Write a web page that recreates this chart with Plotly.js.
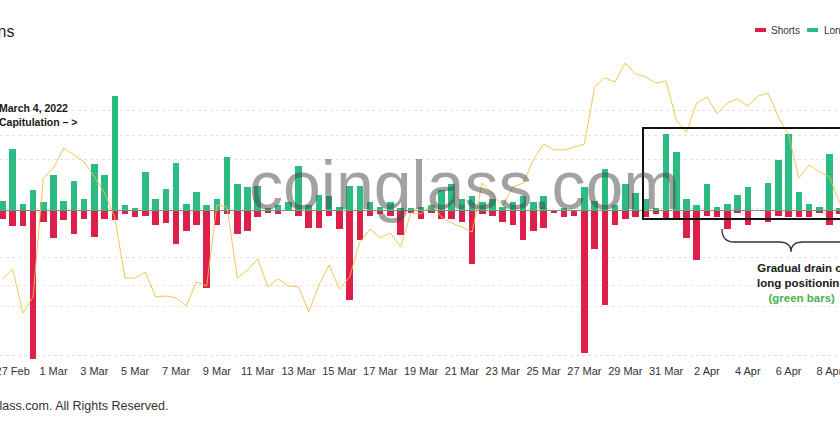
<!DOCTYPE html>
<html>
<head>
<meta charset="utf-8">
<script src="https://cdn.plot.ly/plotly-3.0.1.min.js"></script>
<style>
  html, body { margin: 0; padding: 0; background: #fff; overflow: hidden; }
  #chart { width: 840px; height: 430px; }
</style>
</head>
<body>
<div id="chart"></div>
<script>
// 12-hour buckets
const times = [
  "2022-02-26 12:00","2022-02-27 00:00","2022-02-27 12:00","2022-02-28 00:00","2022-02-28 12:00",
  "2022-03-01 00:00","2022-03-01 12:00","2022-03-02 00:00","2022-03-02 12:00","2022-03-03 00:00","2022-03-03 12:00",
  "2022-03-04 00:00","2022-03-04 12:00","2022-03-05 00:00","2022-03-05 12:00","2022-03-06 00:00","2022-03-06 12:00",
  "2022-03-07 00:00","2022-03-07 12:00","2022-03-08 00:00","2022-03-08 12:00","2022-03-09 00:00","2022-03-09 12:00",
  "2022-03-10 00:00","2022-03-10 12:00","2022-03-11 00:00","2022-03-11 12:00","2022-03-12 00:00","2022-03-12 12:00",
  "2022-03-13 00:00","2022-03-13 12:00","2022-03-14 00:00","2022-03-14 12:00","2022-03-15 00:00","2022-03-15 12:00",
  "2022-03-16 00:00","2022-03-16 12:00","2022-03-17 00:00","2022-03-17 12:00","2022-03-18 00:00","2022-03-18 12:00",
  "2022-03-19 00:00","2022-03-19 12:00","2022-03-20 00:00","2022-03-20 12:00","2022-03-21 00:00","2022-03-21 12:00",
  "2022-03-22 00:00","2022-03-22 12:00","2022-03-23 00:00","2022-03-23 12:00","2022-03-24 00:00","2022-03-24 12:00",
  "2022-03-25 00:00","2022-03-25 12:00","2022-03-26 00:00","2022-03-26 12:00","2022-03-27 00:00","2022-03-27 12:00",
  "2022-03-28 00:00","2022-03-28 12:00","2022-03-29 00:00","2022-03-29 12:00","2022-03-30 00:00","2022-03-30 12:00",
  "2022-03-31 00:00","2022-03-31 12:00","2022-04-01 00:00","2022-04-01 12:00","2022-04-02 00:00","2022-04-02 12:00",
  "2022-04-03 00:00","2022-04-03 12:00","2022-04-04 00:00","2022-04-04 12:00","2022-04-05 00:00","2022-04-05 12:00",
  "2022-04-06 00:00","2022-04-06 12:00","2022-04-07 00:00","2022-04-07 12:00","2022-04-08 00:00","2022-04-08 12:00"
];

// Long liquidations ($M)
const longs = [
  13, 82, 9, 28, 12,
  48, 13, 39, 15, 62, 47,
  153, 7, 4, 51, 16, 29,
  63, 9, 25, 8, 15, 72,
  36, 31, 33, 3, 7, 11,
  60, 8, 21, 20, 5, 33,
  33, 11, 5, 12, 4, 3,
  5, 8, 28, 36, 15, 19,
  11, 16, 5, 11, 20, 11,
  19, 1.3, 3, 0.7, 32, 13,
  55, 8, 36, 24, 16, 3,
  102, 78, 16, 8, 35, 5,
  9, 21, 31, 1.3, 37, 68,
  102, 25, 9, 5, 75, 4
];

// Short liquidations ($M)
const shorts = [
  12, 21, 21, 199, 15,
  37, 13, 32, 11, 35, 12,
  13, 5, 9, 8, 19, 17,
  45, 27, 19, 104, 20, 5,
  32, 28, 9, 4, 5, 1.3,
  7, 23, 23, 8, 25, 120,
  40, 7, 5, 7, 33, 3,
  11, 3, 11, 12, 15, 71,
  5, 7, 16, 20, 40, 28,
  24, 4, 9, 7, 191, 51,
  126, 19, 11, 9, 9, 5,
  11, 11, 37, 66, 8, 9,
  25, 4, 20, 1.3, 15, 8,
  9, 9, 9, 3, 20, 5
];

// BTC price (USD)
const price = [
  39100, 39510, 37710, 38370, 43220,
  43630, 44450, 44160, 43880, 43270, 42610,
  41630, 39140, 39140, 39390, 38370, 38410,
  38330, 38000, 38980, 38820, 42120, 42040,
  39140, 39470, 39920, 38780, 39100, 38820,
  38780, 37760, 38860, 39670, 38690, 39180,
  40610, 41140, 40780, 40980, 40410, 41800,
  41760, 42160, 41630, 41390, 41220, 41020,
  43020, 42530, 42080, 42860, 43020, 43960,
  44610, 44370, 44370, 44490, 44610, 46940,
  47310, 47140, 47920, 47470, 47350, 47100,
  47180, 45590, 45100, 46290, 46530, 45840,
  46290, 46450, 46160, 46570, 46690, 45710,
  44980, 43220, 43760, 43470, 43270, 42200
];

const W = 840, PLOT_TOP = 61, PLOT_BOTTOM = 360;
const px = v => v / W;
const py = v => (PLOT_BOTTOM - v) / (PLOT_BOTTOM - PLOT_TOP);

const RED = '#dd1f4a', GREEN = '#2dbb84';
const FONT = 'Liberation Sans, Arial, Helvetica, sans-serif';
const barW = 12 * 3600 * 1000 * 0.64;

const traces = [
  { type: 'bar', name: 'Longs', x: times, y: longs, width: barW,
    marker: { color: GREEN }, hoverinfo: 'x+y' },
  { type: 'bar', name: 'Shorts', x: times, y: shorts.map(v => -v), width: barW,
    marker: { color: RED }, hoverinfo: 'x+y' },
  { type: 'scatter', mode: 'lines', name: 'Price', x: times, y: price, yaxis: 'y2',
    line: { color: 'rgba(238,194,70,0.9)', width: 1 }, hoverinfo: 'x+y' }
];

const brace = [
  'M', px(722), py(229),
  'Q', px(722), py(242), px(734), py(242),
  'L', px(779), py(242),
  'Q', px(791), py(242), px(791), py(252),
  'Q', px(791), py(242), px(803), py(242),
  'L', px(848), py(242),
  'Q', px(860), py(242), px(860), py(229)
].join(' ');

const layout = {
  width: 840, height: 430,
  margin: { l: 0, r: 0, t: PLOT_TOP, b: 430 - PLOT_BOTTOM, pad: 0, autoexpand: false },
  paper_bgcolor: '#fff', plot_bgcolor: '#fff',
  barmode: 'relative', bargap: 0,
  showlegend: false,
  font: { family: FONT, color: '#333' },
  xaxis: {
    type: 'date',
    range: ['2022-02-26 09:07', '2022-04-08 12:23'],
    tickmode: 'linear', tick0: '2022-02-27', dtick: 2 * 86400000,
    tickformat: '%-d %b',
    ticklabeloverflow: 'allow',
    ticklabelstandoff: 3,
    showgrid: false, zeroline: false, showline: false, ticks: '',
    tickfont: { size: 11, color: '#333', family: FONT }
  },
  yaxis: {
    range: [-200, 200], tickmode: 'linear', tick0: 0, dtick: 100,
    showticklabels: false, ticks: '',
    gridcolor: '#e3e3e3', griddash: 'dot', gridwidth: 1,
    zeroline: true, zerolinecolor: 'rgba(200,50,80,0.75)', zerolinewidth: 1
  },
  yaxis2: {
    overlaying: 'y', side: 'right',
    range: [35796, 48000], tickmode: 'linear', tick0: 36000, dtick: 2000,
    showticklabels: false, ticks: '',
    gridcolor: '#e3e3e3', griddash: 'dot', gridwidth: 1, zeroline: false
  },
  shapes: [
    { type: 'rect', xref: 'paper', yref: 'paper',
      x0: px(643), x1: px(900), y0: py(219), y1: py(128),
      line: { color: '#111', width: 2 }, fillcolor: 'rgba(0,0,0,0)' },
    { type: 'path', xref: 'paper', yref: 'paper', path: brace,
      line: { color: '#333', width: 1.3 } },
    { type: 'rect', xref: 'paper', yref: 'paper',
      x0: px(755), x1: px(766), y0: py(32), y1: py(28),
      line: { width: 0 }, fillcolor: RED },
    { type: 'rect', xref: 'paper', yref: 'paper',
      x0: px(807), x1: px(818), y0: py(32), y1: py(28),
      line: { width: 0 }, fillcolor: GREEN }
  ],
  annotations: [
    { text: 'coinglass.com', xref: 'paper', yref: 'paper', x: px(464), y: py(185),
      xanchor: 'center', yanchor: 'middle', showarrow: false,
      font: { family: FONT, size: 68, color: 'rgba(70,70,70,0.5)' } },
    { text: 'Liquidations', xref: 'paper', yref: 'paper', x: px(16), y: py(31),
      xanchor: 'right', yanchor: 'middle', showarrow: false,
      font: { family: FONT, size: 16, color: '#222' } },
    { text: 'Shorts', xref: 'paper', yref: 'paper', x: px(769), y: py(30),
      xanchor: 'left', yanchor: 'middle', showarrow: false,
      font: { family: FONT, size: 10, color: '#333' } },
    { text: 'Longs', xref: 'paper', yref: 'paper', x: px(822), y: py(30),
      xanchor: 'left', yanchor: 'middle', showarrow: false,
      font: { family: FONT, size: 10, color: '#333' } },
    { text: '<b>March 4, 2022<br>Capitulation – ></b>', xref: 'paper', yref: 'paper',
      x: px(-3), y: py(114.5), xanchor: 'left', yanchor: 'middle', align: 'left',
      showarrow: false, font: { family: FONT, size: 10.5, color: '#1a1a1a' } },
    { text: '<b>Gradual drain of<br>long positioning<br><span style="color:#4caf50">(green bars)</span></b>',
      xref: 'paper', yref: 'paper', x: px(801), y: py(283), xanchor: 'center', yanchor: 'middle',
      align: 'center', showarrow: false, font: { family: FONT, size: 11.5, color: '#1a1a1a' } },
    { text: '© coinglass.com. All Rights Reserved.', xref: 'paper', yref: 'paper',
      x: px(170), y: py(406), xanchor: 'right', yanchor: 'middle', showarrow: false,
      font: { family: FONT, size: 12.5, color: '#333' } }
  ]
};

Plotly.newPlot('chart', traces, layout, { displayModeBar: false, staticPlot: true });
</script>
</body>
</html>
